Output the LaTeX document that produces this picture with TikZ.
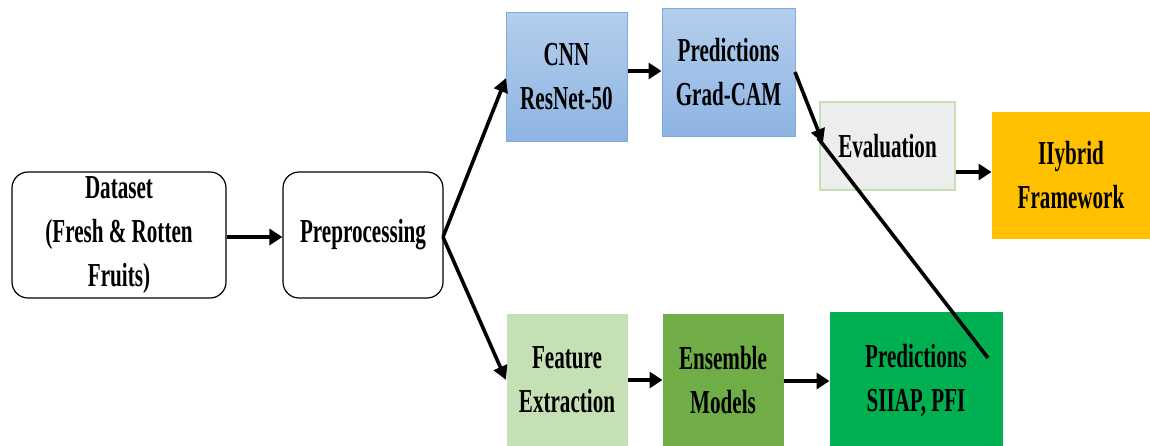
\documentclass[tikz,border=0pt]{standalone}
\usepackage{fontspec}
\setmainfont{Liberation Serif}[FakeStretch=0.63]
\usetikzlibrary{arrows.meta}
\definecolor{bluetop}{HTML}{B4CEEC}
\definecolor{bluebot}{HTML}{8EB4E3}
\definecolor{blueedge}{HTML}{7FAADF}
\definecolor{evalfill}{HTML}{EDEDED}
\definecolor{evaledge}{HTML}{C5E0B4}
\definecolor{hybfill}{HTML}{FFC000}
\definecolor{fefill}{HTML}{C5E0B4}
\definecolor{emfill}{HTML}{70AD47}
\definecolor{psfill}{HTML}{00B050}
\begin{document}
\begin{tikzpicture}[x=1pt,y=-1pt,
  every node/.style={font=\fontsize{33.5}{44}\selectfont\bfseries, align=center, inner sep=0pt},
  roundbox/.style={draw=black, line width=1.2pt, rounded corners=16pt},
  bluebox/.style={draw=blueedge, line width=1pt, top color=bluetop, bottom color=bluebot},
  flat/.style={draw=#1, line width=1pt, fill=#1},
  conn/.style={line width=4.5pt, -{Triangle[length=13pt,width=16pt]}},
  diag/.style={line width=3.6pt, -{Triangle[length=14pt,width=14pt]}},
  plainline/.style={line width=3.6pt}
]
\useasboundingbox (0,0) rectangle (1150,445);
\fill[white] (0,0) rectangle (1150,445);

\node[roundbox, minimum width=214pt, minimum height=126pt] (data) at (119,235) {Dataset\\(Fresh \& Rotten\\Fruits)};
\node[roundbox, minimum width=160pt, minimum height=126pt] (pre) at (363,235) {Preprocessing};
\node[bluebox, minimum width=121pt, minimum height=129pt] (cnn) at (566.5,76.5) {CNN\\ResNet-50};
\node[bluebox, minimum width=133pt, minimum height=128pt] (pgc) at (728.5,72) {Predictions\\Grad-CAM};
\node[draw=evaledge, line width=1.2pt, fill=evalfill, minimum width=135pt, minimum height=88pt] (eval) at (887.5,146) {Evaluation};
\node[flat=hybfill, minimum width=158pt, minimum height=126pt] (hyb) at (1071,175) {IIybrid\\Framework};
\node[flat=fefill, minimum width=120pt, minimum height=132pt] (fe) at (567,380) {Feature\\Extraction};
\node[flat=emfill, minimum width=120pt, minimum height=132pt] (em) at (723,380) {Ensemble\\Models};
\node[flat=psfill, minimum width=172pt, minimum height=136pt] (ps) at (916,380) {Predictions\\SIIAP, PFI};

\coordinate (prefork) at (443,237);
\coordinate (cnnin) at (506,78);
\coordinate (fein) at (506,380);
\coordinate (pgcout) at (795,72);
\coordinate (evalin) at (823,143);
\coordinate (linestart) at (818,138);
\coordinate (lineend) at (988,358);

\draw[conn] (data.east |- 0,237) -- (pre.west |- 0,237);
\draw[diag] (prefork) -- (cnnin);
\draw[diag] (prefork) -- (fein);
\draw[conn] (cnn.east |- 0,71) -- (pgc.west |- 0,71);
\draw[diag] (pgcout) -- (evalin);
\draw[plainline] (linestart) -- (lineend);
\draw[conn] (eval.east |- 0,172) -- (hyb.west |- 0,172);
\draw[conn] (fe.east |- 0,380) -- (em.west |- 0,380);
\draw[conn] (em.east |- 0,381) -- (ps.west |- 0,381);
\end{tikzpicture}
\end{document}
